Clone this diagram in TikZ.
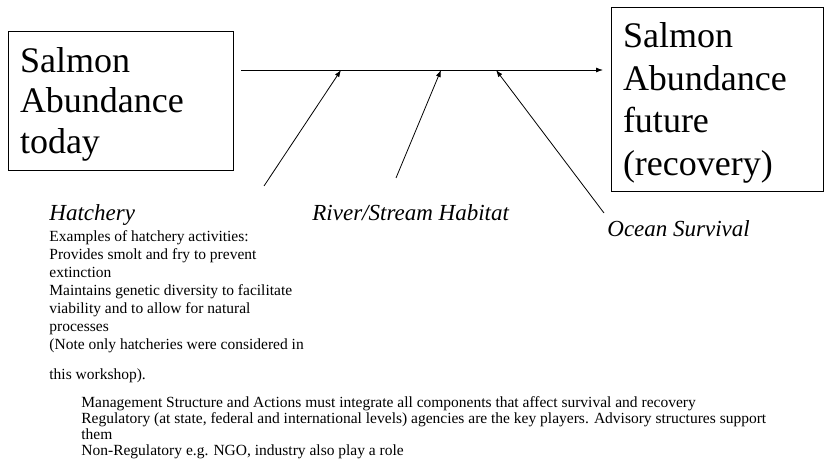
\documentclass[tikz,border=0pt]{standalone}
\usepackage{fontspec}
\setmainfont{Liberation Serif}
\usetikzlibrary{arrows.meta}
\begin{document}
\begin{tikzpicture}[x=1pt,y=-1pt,line width=0.8pt,
  tip/.style={-{Latex[length=7pt,width=5pt]}},
  abundance/.style={draw,line width=1pt,anchor=north west,align=left,inner xsep=11.5pt,inner ysep=0pt},
  factor/.style={anchor=base west,inner sep=0pt,font=\fontsize{23}{26}\selectfont\itshape},
  notes/.style={anchor=base west,inner sep=0pt,align=left}]
\useasboundingbox (0,0) rectangle (825,468);
% Boxes
\node[abundance,text width=202pt,minimum height=139pt,font=\fontsize{36}{40.5}\selectfont] (today) at (8,31)
  {\rule{0pt}{31.5pt}Salmon\\Abundance\\today};
\node[abundance,text width=189pt,minimum height=184pt,font=\fontsize{36}{42.5}\selectfont] (future) at (611,7)
  {\rule{0pt}{31.5pt}Salmon\\Abundance\\future\\(recovery)};
% Main arrow
\coordinate (now) at (241,70);
\coordinate (later) at (603,70);
\draw[tip] (now) -- (later);
% Branch arrows
\coordinate (h0) at (264,186);
\coordinate (h1) at (341,70);
\coordinate (r0) at (396,178);
\coordinate (r1) at (441,70);
\coordinate (o0) at (604,213);
\coordinate (o1) at (496,70);
\draw[tip] (h0) -- (h1);
\draw[tip] (r0) -- (r1);
\draw[tip] (o0) -- (o1);
% Labels
\node[factor] (hatchery) at (49,220) {Hatchery};
\node[factor] (habitat) at (312,220) {River/Stream Habitat};
\node[factor] (survival) at (607,236) {Ocean Survival};
% Notes (base = last line)
\node[notes,font=\fontsize{15.5}{18}\selectfont] (examples) at (49,379)
  {Examples of hatchery activities:\\Provides smolt and fry to prevent\\extinction\\Maintains genetic diversity to facilitate\\viability and to allow for natural\\processes\\(Note only hatcheries were considered in\\[12pt]this workshop).};
\node[notes,font=\fontsize{15.5}{16}\selectfont] (management) at (81,455)
  {Management Structure and Actions must integrate all components that affect survival and recovery\\Regulatory (at state, federal and international levels) agencies are the key players. Advisory structures support\\them\\Non-Regulatory e.g. NGO, industry also play a role};
\end{tikzpicture}
\end{document}
